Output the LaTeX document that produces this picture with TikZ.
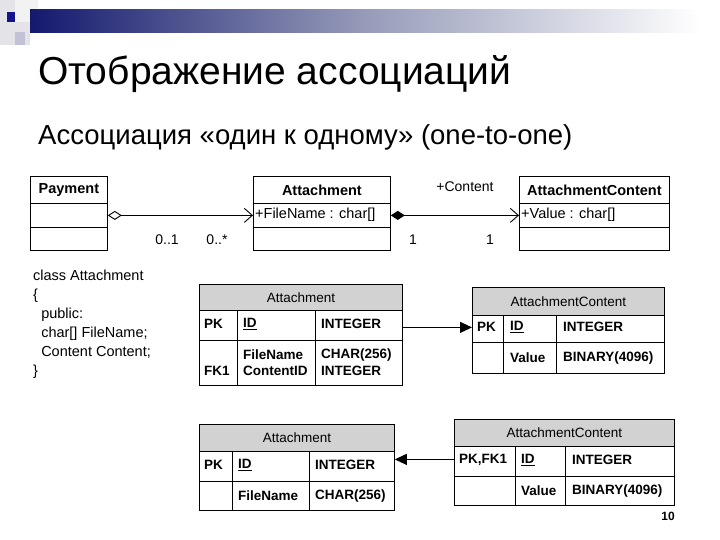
\documentclass[tikz,border=0pt]{standalone}
\usepackage{fontspec}
\setmainfont{Liberation Sans}
\usetikzlibrary{arrows.meta}
\definecolor{navyA}{RGB}{20,25,110}
\definecolor{navyM}{RGB}{150,155,185}
\definecolor{navyS}{RGB}{20,20,140}
\begin{document}
\begin{tikzpicture}[x=1pt,y=-1pt,
  box/.style={draw,line width=0.8pt,anchor=north west,inner sep=0pt},
  hdr/.style={box,fill=gray!35},
  txt/.style={inner sep=0pt,anchor=west,font=\fontsize{13.5}{15}\selectfont\bfseries},
  ttl/.style={inner sep=0pt,font=\fontsize{13.5}{15}\selectfont},
  uml/.style={inner sep=0pt,anchor=west,font=\fontsize{14.5}{16}\selectfont},
  lab/.style={inner sep=0pt,font=\fontsize{14}{16}\selectfont},
  ubold/.style={inner sep=0pt,font=\fontsize{14.5}{16}\selectfont\bfseries},
  conn/.style={line width=0.9pt}]
\useasboundingbox (0,0) rectangle (720,540);
% header decoration
\fill[blue!8!gray!20] (0,0) rectangle (30,45);
\fill[blue!5!gray!10] (15,0) rectangle (38,22);
\fill[blue!20!gray!40] (15,32) rectangle (25,45);
\shade[left color=navyA, right color=white, middle color=navyM] (30,10) rectangle (700,33);
\fill[navyS] (7,12) rectangle (15,22);
% titles
\node[inner sep=0pt,anchor=base west,font=\fontsize{39}{44}\selectfont] (title) at (38,85) {Отображение ассоциаций};
\node[inner sep=0pt,anchor=base west,font=\fontsize{27.5}{32}\selectfont] (sub) at (38,145) {Ассоциация «один к одному» (one-to-one)};
% UML
\node[box,minimum width=77pt,minimum height=27pt] (p1) at (30,176) {};
\node[box,minimum width=77pt,minimum height=24pt] (p2) at (30,203) {};
\node[box,minimum width=77pt,minimum height=23pt] (p3) at (30,227) {};
\node[ubold] at (p1.center) {Payment};
\node[box,minimum width=137pt,minimum height=27pt] (a1) at (253,176) {};
\node[box,minimum width=137pt,minimum height=24pt] (a2) at (253,203) {};
\node[box,minimum width=137pt,minimum height=23pt] (a3) at (253,227) {};
\node[ubold] at (a1.center) {Attachment};
\node[uml] (a2t) at (255,215) {+FileName : char[]};
\node[box,minimum width=150pt,minimum height=27pt] (c1) at (519,176) {};
\node[box,minimum width=150pt,minimum height=24pt] (c2) at (519,203) {};
\node[box,minimum width=150pt,minimum height=23pt] (c3) at (519,227) {};
\node[ubold] at (c1.center) {AttachmentContent};
\node[uml] (c2t) at (521,215) {+Value : char[]};
\draw[conn,{Diamond[open,length=14pt,width=9pt]}-{Straight Barb[length=8pt,width=14pt]}] (p2.east) -- (a2.west);
\draw[conn,{Diamond[length=14pt,width=9pt]}-{Straight Barb[length=8pt,width=14pt]}] (a2.east) -- (c2.west);
\node[lab] at (167,240) {0..1};
\node[lab] at (217,240) {0..*};
\node[lab] at (413,240) {1};
\node[lab] at (490,240) {1};
\node[lab] at (465,187) {+Content};
% code
\node[inner sep=0pt,anchor=north west,align=left,font=\fontsize{14.5}{19}\selectfont] (code) at (33,270) {class Attachment\\\{\\\ \ public:\\\ \ char[] FileName;\\\ \ Content Content;\\\}};
% table 1
\node[hdr,minimum width=203pt,minimum height=26pt] (t1h) at (199,284) {};
\node[ttl] at (t1h.center) {Attachment};
\node[box,minimum width=203pt,minimum height=30pt] (t1r1) at (199,310) {};
\node[box,minimum width=203pt,minimum height=45pt] (t1r2) at (199,340) {};
\draw[line width=0.8pt] (237,310) -- (237,385) (315,310) -- (315,385);
\node[txt] at (204,324) {PK};
\node[txt] at (243,324) {\underline{ID}};
\node[txt] at (321,324) {INTEGER};
\node[txt] at (204,371) {FK1};
\node[txt] at (243,355) {FileName};
\node[txt] at (243,371) {ContentID};
\node[txt] at (321,355) {CHAR(256)};
\node[txt] at (321,371) {INTEGER};
% table 2
\node[hdr,minimum width=192pt,minimum height=28pt] (t2h) at (472,287) {};
\node[ttl] at (t2h.center) {AttachmentContent};
\node[box,minimum width=192pt,minimum height=27pt] (t2r1) at (472,315) {};
\node[box,minimum width=192pt,minimum height=31pt] (t2r2) at (472,342) {};
\draw[line width=0.8pt] (503,315) -- (503,373) (556,315) -- (556,373);
\node[txt] at (477,327) {PK};
\node[txt] at (510,327) {\underline{ID}};
\node[txt] at (563,327) {INTEGER};
\node[txt] at (510,358) {Value};
\node[txt] at (563,358) {BINARY(4096)};
\draw[conn,-{Triangle[length=12pt,width=11pt]}] ([yshift=-2pt]t1r1.east) -- ([yshift=-2pt]t1r1.east -| t2r1.west);
% table 3
\node[hdr,minimum width=195pt,minimum height=27pt] (t3h) at (199,424) {};
\node[ttl] at (t3h.center) {Attachment};
\node[box,minimum width=195pt,minimum height=30pt] (t3r1) at (199,451) {};
\node[box,minimum width=195pt,minimum height=29pt] (t3r2) at (199,481) {};
\draw[line width=0.8pt] (232,451) -- (232,510) (309,451) -- (309,510);
\node[txt] at (204,465) {PK};
\node[txt] at (238,465) {\underline{ID}};
\node[txt] at (315,465) {INTEGER};
\node[txt] at (238,496) {FileName};
\node[txt] at (315,496) {CHAR(256)};
% table 4
\node[hdr,minimum width=220pt,minimum height=27pt] (t4h) at (454,419) {};
\node[ttl] at (t4h.center) {AttachmentContent};
\node[box,minimum width=220pt,minimum height=30pt] (t4r1) at (454,446) {};
\node[box,minimum width=220pt,minimum height=29pt] (t4r2) at (454,476) {};
\draw[line width=0.8pt] (515,446) -- (515,505) (565,446) -- (565,505);
\node[txt] at (459,460) {PK,FK1};
\node[txt] at (521,460) {\underline{ID}};
\node[txt] at (572,460) {INTEGER};
\node[txt] at (521,491) {Value};
\node[txt] at (572,491) {BINARY(4096)};
\draw[conn,-{Triangle[length=12pt,width=11pt]}] ([yshift=2pt]t4r1.west) -- ([yshift=2pt]t4r1.west -| t3r1.east);
\node[inner sep=0pt,font=\fontsize{12}{14}\selectfont\bfseries] (pg) at (668,516) {10};
\end{tikzpicture}
\end{document}
